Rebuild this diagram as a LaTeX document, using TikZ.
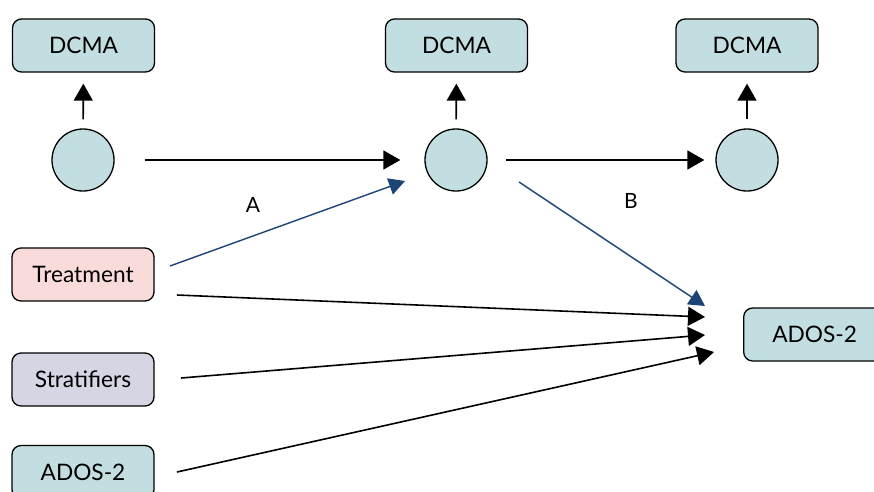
\documentclass[tikz,border=0pt]{standalone}
\usepackage{fontspec}
\setmainfont{Lato}
\usetikzlibrary{arrows.meta}
\definecolor{tealf}{HTML}{C3DEE0}
\definecolor{pinkf}{HTML}{F9DCDA}
\definecolor{lavf}{HTML}{D5D5E3}
\definecolor{darkblue}{HTML}{1D4477}
\begin{document}
\begin{tikzpicture}[x=1pt,y=-1pt,
  box/.style={draw=black,line width=1.3pt,rounded corners=9pt,minimum width=142pt,minimum height=53pt,inner sep=0pt,font=\fontsize{22.7}{26}\selectfont},
  circ/.style={draw=black,line width=1.3pt,circle,fill=tealf,minimum size=62pt,inner sep=0pt},
  arr/.style={line width=1.6pt,-{Triangle[length=17pt,width=19pt]}},
  barr/.style={line width=1.4pt,darkblue,-{Triangle[length=16pt,width=17pt]}},
  lab/.style={font=\fontsize{21}{24}\selectfont}]
\useasboundingbox (0,0) rectangle (874,491);
\node[box,fill=tealf] (d1) at (83.5,45.5) {DCMA};
\node[box,fill=tealf] (d2) at (456.5,45.5) {DCMA};
\node[box,fill=tealf] (d3) at (747,45.5) {DCMA};
\node[circ] (c1) at (83,160) {};
\node[circ] (c2) at (456,160) {};
\node[circ] (c3) at (747,160) {};
\node[box,fill=pinkf] (tr) at (83,274.5) {Treatment};
\node[box,fill=lavf] (st) at (83,379.5) {Stratifiers};
\node[box,fill=tealf] (al) at (83,472) {ADOS-2};
\node[box,fill=tealf,anchor=west] (ar) at (743,334.5) {ADOS-2};
% up arrows
\draw[arr,shorten <=9pt,shorten >=11pt] (c1) -- (d1);
\draw[arr,shorten <=9pt,shorten >=11pt] (c2) -- (d2);
\draw[arr,shorten <=9pt,shorten >=11pt] (c3) -- (d3);
% horizontal
\draw[arr,shorten <=30pt,shorten >=24pt] (c1) -- (c2);
\draw[arr,shorten <=18pt,shorten >=11pt] (c2) -- (c3);
% endpoint coordinates
\coordinate (aS) at (170,266);
\coordinate (aE) at (405,181);
\coordinate (bS) at (519,182);
\coordinate (bE) at (705,306);
\coordinate (t1) at (177,295);
\coordinate (t2) at (705,317);
\coordinate (s1) at (181,378);
\coordinate (s2) at (705,335);
\coordinate (l1) at (177,472);
\coordinate (l2) at (714,352);
\draw[barr] (aS) -- (aE);
\draw[barr] (bS) -- (bE);
\draw[arr] (t1) -- (t2);
\draw[arr] (s1) -- (s2);
\draw[arr] (l1) -- (l2);
\node[lab] (la) at (253,205) {A};
\node[lab] (lb) at (631,201) {B};
\end{tikzpicture}
\end{document}
